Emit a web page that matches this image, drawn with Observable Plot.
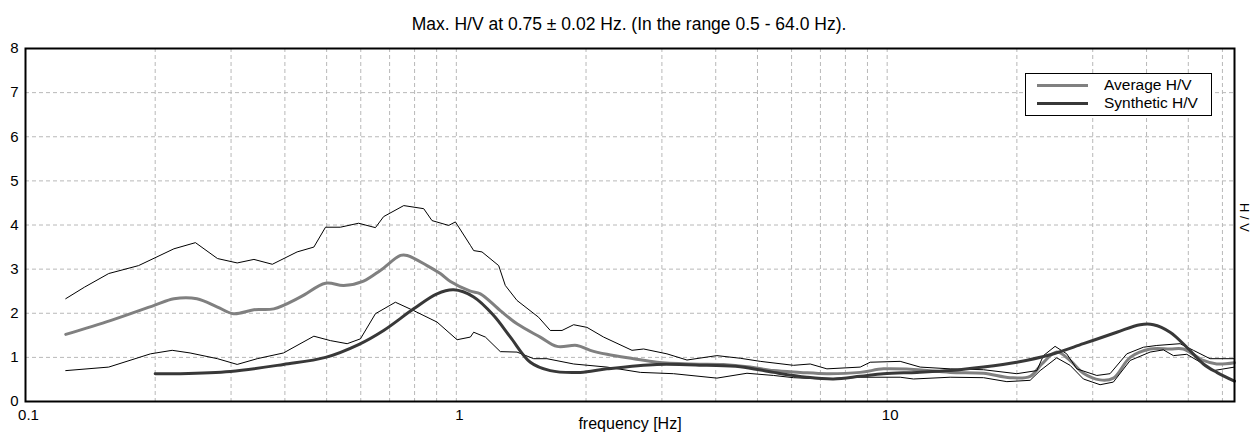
<!DOCTYPE html>
<html>
<head>
<meta charset="utf-8">
<script src="https://cdn.jsdelivr.net/npm/d3@7"></script>
<script src="https://cdn.jsdelivr.net/npm/@observablehq/plot@0.6"></script>
<style>
  html, body { margin: 0; padding: 0; background: #fff; }
  body { font-family: "Liberation Sans", Arial, sans-serif; color: #000; }
  #wrap { position: relative; width: 1252px; height: 439px; overflow: hidden; }
  #title { height: 36px; box-sizing: border-box; padding-top: 15px; font-size: 17.5px; line-height: 18px; text-align: center; padding-left: 6px; white-space: nowrap; }
  #legend { position: absolute; left: 1025px; top: 73px; width: 185px; height: 41px; border: 1px solid #000; background: #fff; font-size: 15.5px; }
  .lg { position: absolute; left: 0; width: 100%; height: 18px; }
  .lg .sw { position: absolute; left: 11px; width: 51px; height: 3px; top: 8px; }
  .lg .tx { position: absolute; left: 78px; top: 0; line-height: 18px; white-space: nowrap; }
  #ylab { position: absolute; left: 1251px; top: 203px; font-size: 13px; line-height: 13px; transform: rotate(90deg); transform-origin: left top; white-space: pre; }
</style>
</head>
<body>
<div id="wrap">
  <div id="title">Max. H/V at 0.75 ± 0.02 Hz. (In the range 0.5 - 64.0 Hz).</div>
  <div id="chart"></div>
  <div id="legend"></div>
  <div id="ylab"></div>
</div>
<script>
// Frequency axis ticks (Hz) and H/V axis ticks
const xTickLabels = [0.1, 1, 10];
const xGrid = [0.2,0.3,0.4,0.5,0.6,0.7,0.8,0.9,1,2,3,4,5,6,7,8,9,10,20,30,40,50,60];
const yTicks = [0,1,2,3,4,5,6,7,8];
const yGrid = [1,2,3,4,5,6,7];

// Upper standard-deviation curve (H/V + std)
const upperF = [0.124,0.137,0.156,0.183,0.221,0.248,0.279,0.310,0.339,0.374,0.427,0.467,0.497,0.538,0.593,0.649,0.678,0.755,0.840,0.878,0.960,0.995,1.078,1.097,1.147,1.254,1.299,1.383,1.552,1.652,1.759,1.872,2.010,2.197,2.557,2.721,3.082,3.430,4.025,4.560,5.074,6.061,6.628,7.247,8.659,9.133,10.72,11.93,14.00,16.73,19.99,22.25,23.05,24.53,26.11,27.55,30.66,32.91,35.99,39.33,42.25,47.85,51.38,56.16,64];
const upperV = [2.33,2.59,2.90,3.08,3.46,3.60,3.24,3.14,3.22,3.11,3.39,3.50,3.95,3.95,4.04,3.94,4.19,4.44,4.37,4.10,3.99,4.07,3.54,3.42,3.39,3.08,2.63,2.29,1.91,1.61,1.61,1.74,1.68,1.46,1.16,1.19,1.08,0.94,1.04,0.98,0.91,0.82,0.85,0.74,0.78,0.89,0.91,0.78,0.74,0.72,0.63,0.70,1.04,1.25,1.08,0.74,0.59,0.63,1.08,1.23,1.27,1.31,1.16,0.97,0.97];

// Lower standard-deviation curve (H/V - std)
const lowerF = [0.124,0.156,0.195,0.219,0.241,0.279,0.310,0.345,0.397,0.467,0.510,0.558,0.599,0.649,0.722,0.796,0.902,1.004,1.078,1.097,1.168,1.265,1.383,1.512,1.623,1.872,2.237,2.673,3.193,4.025,4.727,5.449,6.061,7.117,8.659,10.72,11.51,14.00,16.73,18.96,21.47,22.65,24.75,26.58,28.54,31.20,33.50,36.64,40.76,43.77,46.17,49.59,54.19,57.16,64];
const lowerV = [0.70,0.78,1.08,1.16,1.10,0.97,0.84,0.97,1.10,1.48,1.38,1.31,1.42,1.99,2.25,2.06,1.80,1.40,1.46,1.57,1.46,1.13,1.12,0.97,0.97,0.85,0.78,0.66,0.63,0.53,0.64,0.59,0.54,0.51,0.55,0.55,0.51,0.55,0.54,0.45,0.48,0.70,0.99,0.82,0.51,0.38,0.44,0.93,1.12,1.17,1.04,1.07,0.85,0.70,0.78];

// Average H/V
const avgF = [0.124,0.158,0.199,0.221,0.250,0.279,0.304,0.339,0.377,0.435,0.497,0.548,0.609,0.666,0.742,0.769,0.855,0.918,0.969,1.078,1.137,1.265,1.383,1.566,1.713,1.905,2.046,2.237,2.579,2.922,3.491,4.170,4.811,5.449,6.283,7.247,8.659,9.806,11.31,14.00,16.73,19.29,21.47,22.86,24.75,26.58,28.54,31.20,33.50,36.64,40.76,45.36,48.70,54.19,58.21,64];
const avgV = [1.52,1.84,2.18,2.33,2.33,2.14,1.99,2.08,2.10,2.37,2.68,2.63,2.73,2.97,3.31,3.31,3.08,2.90,2.72,2.50,2.44,2.06,1.76,1.46,1.25,1.27,1.16,1.07,0.97,0.89,0.85,0.84,0.78,0.70,0.66,0.63,0.66,0.74,0.73,0.66,0.64,0.54,0.57,0.85,1.12,0.93,0.64,0.49,0.53,1.00,1.19,1.19,1.19,0.93,0.85,0.88];

// Synthetic H/V
const synF = [0.200,0.227,0.299,0.397,0.497,0.593,0.678,0.796,0.902,0.986,1.097,1.221,1.335,1.485,1.652,1.940,2.237,2.922,3.816,4.560,5.449,6.512,7.508,8.659,9.806,11.72,14.00,16.73,19.99,23.89,28.54,34.12,38.65,41.49,45.36,49.59,54.19,58.21,64];
const synV = [0.63,0.63,0.68,0.84,1.00,1.29,1.61,2.10,2.44,2.53,2.37,1.95,1.46,0.89,0.70,0.66,0.74,0.84,0.82,0.79,0.66,0.55,0.51,0.57,0.63,0.66,0.70,0.78,0.89,1.06,1.31,1.57,1.74,1.74,1.57,1.23,0.85,0.66,0.46];

const seriesNames = ["Average H/V", "Synthetic H/V"];
const seriesColors = ["#808080", "#383838"];
const yAxisTitle = "H / V";
const xAxisTitle = "frequency [Hz]";

const toRows = (F, V) => F.map((f, i) => ({f, v: V[i]}));

const gridStyle = {stroke: "#b8b8b8", strokeDasharray: "4,3", strokeWidth: 1, strokeOpacity: 1};

const chart = Plot.plot({
  width: 1252,
  height: 403,
  marginLeft: 25,
  marginRight: 18,
  marginTop: 12,
  marginBottom: 38,
  style: {fontFamily: "'Liberation Sans', Arial, sans-serif", fontSize: "15px", color: "#000", background: "#fff", overflow: "visible"},
  x: {type: "log", domain: [0.1, 64]},
  y: {domain: [0, 8]},
  marks: [
    Plot.ruleX(xGrid, {x: d => d, ...gridStyle}),
    Plot.ruleY(yGrid, {y: d => d, ...gridStyle}),
    Plot.line(toRows(avgF, avgV), {x: "f", y: "v", stroke: seriesColors[0], strokeWidth: 3, curve: "catmull-rom"}),
    Plot.line(toRows(upperF, upperV), {x: "f", y: "v", stroke: "#000", strokeWidth: 1}),
    Plot.line(toRows(lowerF, lowerV), {x: "f", y: "v", stroke: "#000", strokeWidth: 1}),
    Plot.line(toRows(synF, synV), {x: "f", y: "v", stroke: seriesColors[1], strokeWidth: 3, curve: "catmull-rom"}),
    Plot.frame({stroke: "#000", strokeWidth: 2}),
    Plot.axisX(xTickLabels, {tickSize: 0, tickPadding: 8, dx: 3, tickFormat: d => String(d), label: null, fontSize: 15}),
    Plot.axisY(yTicks, {tickSize: 0, tickPadding: 7, tickFormat: d => String(d), label: null, fontSize: 15}),
    Plot.text([xAxisTitle], {frameAnchor: "bottom", dy: 27, text: d => d, fontSize: 16})
  ]
});
document.getElementById("chart").appendChild(chart);

// legend
const leg = document.getElementById("legend");
seriesNames.forEach((name, i) => {
  const row = document.createElement("div");
  row.className = "lg";
  row.style.top = (i === 0 ? 2 : 20) + "px";
  row.innerHTML = `<div class="sw" style="background:${seriesColors[i]}"></div><div class="tx">${name}</div>`;
  leg.appendChild(row);
});
document.getElementById("ylab").textContent = yAxisTitle;
</script>
</body>
</html>
